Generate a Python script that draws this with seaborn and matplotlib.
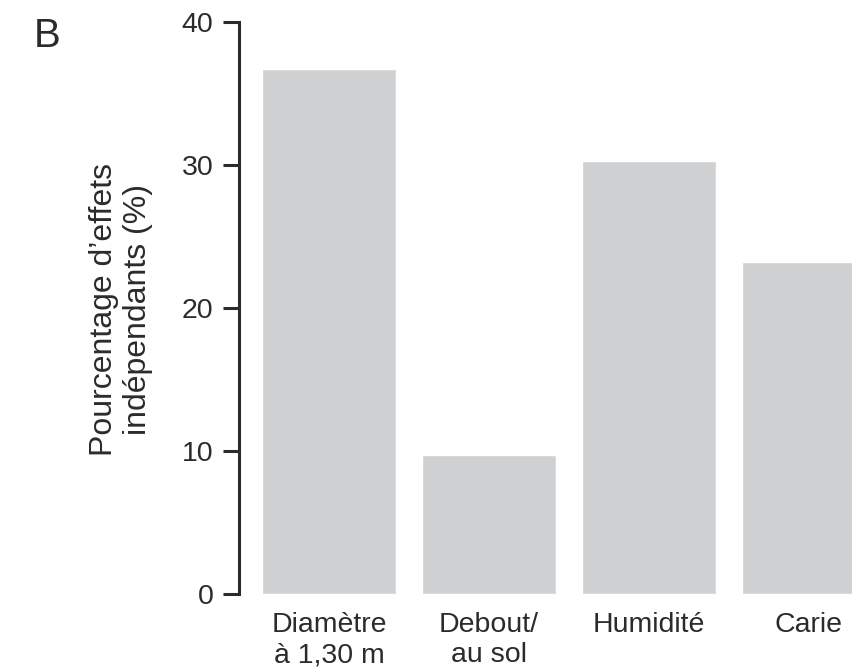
import matplotlib
matplotlib.use("Agg")
import matplotlib.pyplot as plt
import seaborn as sns
import pandas as pd

categories = ["Diamètre\nà 1,30 m", "Debout/\nau sol", "Humidité", "Carie"]
values = [36.7, 9.7, 30.3, 23.2]
yticks = [0, 10, 20, 30, 40]

sns.set_theme(style="white")
plt.rcParams['font.family'] = ['Liberation Sans', 'DejaVu Sans']
txt = "#2b2b2e"

df = pd.DataFrame({"cat": categories, "val": values})
fig = plt.figure(figsize=(8.53, 6.70), dpi=100)
W, H = 853, 670
ax = fig.add_axes([239 / W, (H - 594) / H, (W - 239) / W, (594 - 22) / H])
sns.barplot(data=df, x="cat", y="val", color="#cfd0d2", saturation=1, width=0.84, ax=ax)
ax.set_xlim(-0.5625, 3.275)
ax.set_ylim(0, 40)
ax.set_yticks(yticks)
ax.set_yticklabels([str(t) for t in yticks])
for s in ["top", "right", "bottom"]:
    ax.spines[s].set_visible(False)
ax.spines["left"].set_color(txt)
ax.spines["left"].set_linewidth(2.2)
ax.tick_params(axis="y", length=11.5, width=2.2, color=txt, labelsize=20.5, labelcolor=txt, pad=7, left=True)
ax.tick_params(axis="x", length=0, labelsize=20.5, labelcolor=txt, pad=13)
for lab in ax.get_xticklabels():
    lab.set_linespacing(1.2)
ax.set_xlabel("")
ax.set_ylabel("")
fig.text(121 / W, (H - 309) / H, "Pourcentage d\u2019effets\nindépendants (%)", rotation=90,
         ha="center", va="center", fontsize=23, color=txt, multialignment="center", linespacing=1.2)
fig.text(34 / W, (H - 47) / H, "B", fontsize=29, color=txt, ha="left", va="baseline")
fig.savefig("out.png", dpi=100)
